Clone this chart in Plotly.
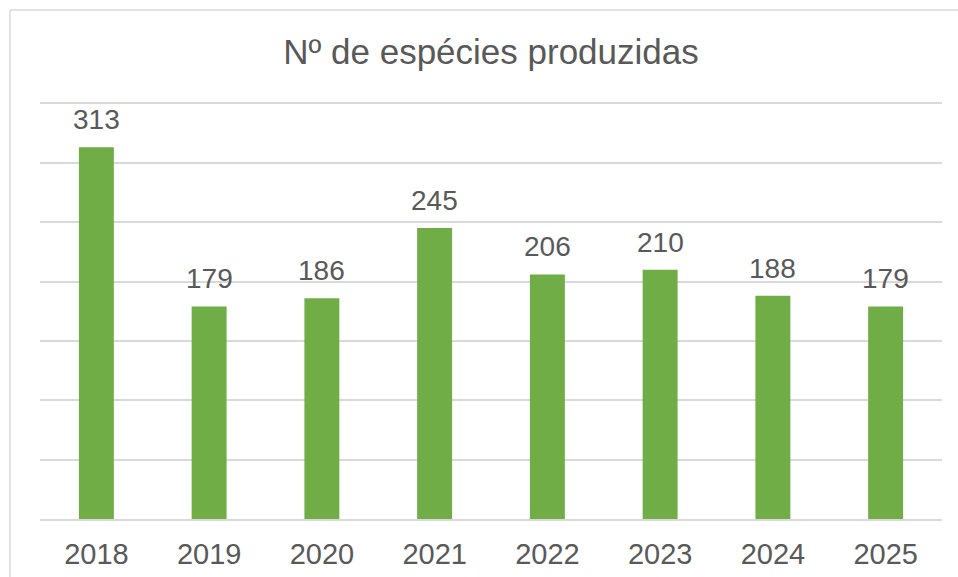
import plotly.graph_objects as go

years = ["2018", "2019", "2020", "2021", "2022", "2023", "2024", "2025"]
values = [313, 179, 186, 245, 206, 210, 188, 179]

TEXT = "#595959"
GRID = "#D9D9D9"
BAR = "#70AD47"
FONT = "Liberation Sans, Arial, sans-serif"

W, H = 958, 577
L, R, T, B = 40, 16, 101, 58

fig = go.Figure(go.Bar(x=years, y=values, marker=dict(color=BAR, line=dict(width=0)),
                       hoverinfo="x+y"))

for i, v in enumerate(values):
    fig.add_annotation(x=i, y=v, text=str(v), showarrow=False, yanchor="bottom",
                       yshift=10, font=dict(size=28, color=TEXT, family=FONT))

plot_w = W - L - R
plot_h = H - T - B
bx = (10 - L) / plot_w
by = (H - B - 10) / plot_h
# chart-area border (left and top edges; the rest lies outside the picture)
fig.add_shape(type="line", xref="paper", yref="paper", x0=bx, x1=bx, y0=-0.3, y1=by,
              line=dict(color=GRID, width=1.5), layer="below")
fig.add_shape(type="line", xref="paper", yref="paper", x0=bx, x1=1.2, y0=by, y1=by,
              line=dict(color=GRID, width=1.5), layer="below")

fig.update_layout(
    width=W, height=H,
    margin=dict(l=L, r=R, t=T, b=B, autoexpand=False),
    paper_bgcolor="white", plot_bgcolor="white",
    bargap=0.69,
    showlegend=False,
    font=dict(family=FONT, color=TEXT),
    title=dict(text="Nº de espécies produzidas", x=0.5, xref="paper",
               y=1 - 52 / H, yanchor="middle",
               font=dict(size=35, color=TEXT, family=FONT)),
    xaxis=dict(type="category", range=[-0.5, len(years) - 0.5], showgrid=False,
               showline=True, linecolor=GRID, linewidth=1.5,
               ticks="", tickfont=dict(size=29, color=TEXT, family=FONT),
               ticklabelstandoff=8, automargin=False),
    yaxis=dict(range=[0, 352], tick0=0, dtick=50, showgrid=True, gridcolor=GRID, gridwidth=1.5,
               showticklabels=False, zeroline=False, ticks="", automargin=False),
)

fig.write_html("out.html",
               config={"displayModeBar": False},
               post_script="document.body.style.margin='0';document.body.style.overflow='hidden';")
